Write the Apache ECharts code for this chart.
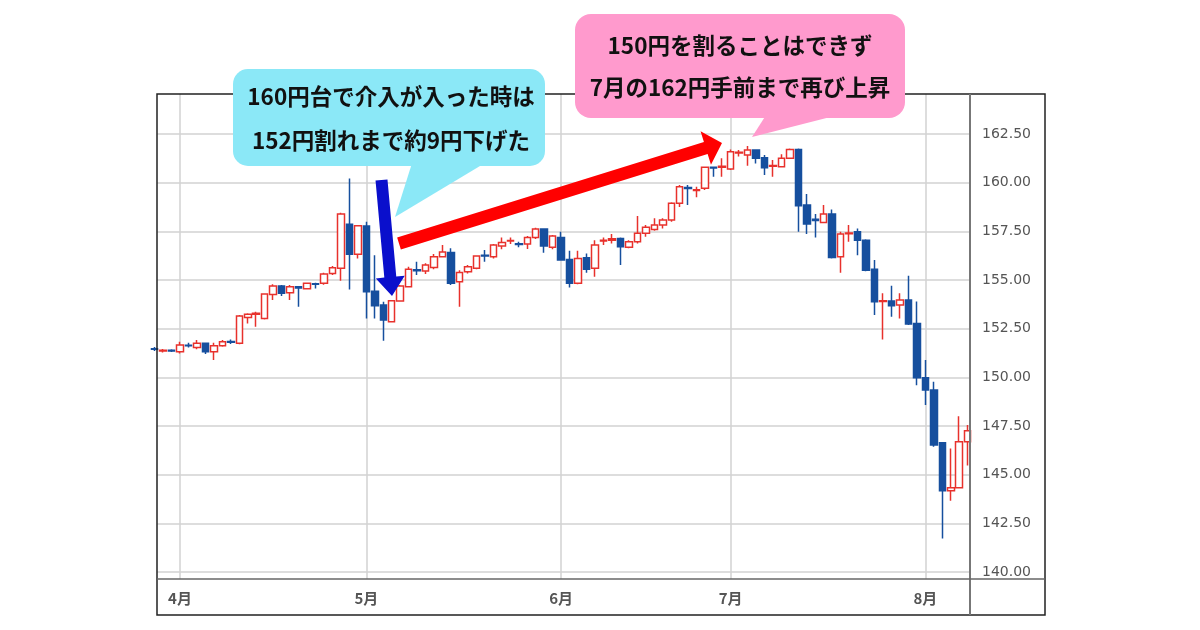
<!DOCTYPE html>
<html>
<head>
<meta charset="utf-8">
<script src="https://cdn.jsdelivr.net/npm/echarts@6/dist/echarts.min.js"></script>
<style>
html,body{margin:0;padding:0;background:#fff;}
#c{width:1200px;height:630px;}
</style>
</head>
<body>
<div id="c"></div>
<script>
// ---- data (USD/JPY daily) ----
const dates = ['3/27','3/28','3/29',
'4/1','4/2','4/3','4/4','4/5','4/8','4/9','4/10','4/11','4/12','4/15','4/16','4/17','4/18','4/19','4/22','4/23','4/24','4/25','4/26','4/29','4/30',
'5/1','5/2','5/3','5/6','5/7','5/8','5/9','5/10','5/13','5/14','5/15','5/16','5/17','5/20','5/21','5/22','5/23','5/24','5/27','5/28','5/29','5/30','5/31',
'6/3','6/4','6/5','6/6','6/7','6/10','6/11','6/12','6/13','6/14','6/17','6/18','6/19','6/20','6/21','6/24','6/25','6/26','6/27','6/28',
'7/1','7/2','7/3','7/4','7/5','7/8','7/9','7/10','7/11','7/12','7/15','7/16','7/17','7/18','7/19','7/22','7/23','7/24','7/25','7/26','7/29','7/30','7/31',
'8/1','8/2','8/5','8/6','8/7','8/8'];
const openV = [151.47,151.35,151.39,
151.32,151.65,151.54,151.75,151.32,151.63,151.85,151.75,153.08,153.24,153.03,154.26,154.69,154.35,154.66,154.55,154.81,154.83,155.34,155.60,157.86,156.32,
157.77,154.43,153.72,152.86,153.92,154.66,155.53,155.46,155.65,156.20,156.42,154.91,155.43,155.60,156.27,156.20,156.75,157.00,156.86,156.85,157.19,157.62,156.68,
157.19,156.06,154.83,156.15,155.60,157.00,157.05,157.14,156.68,156.97,157.40,157.60,157.83,158.08,158.94,159.75,159.60,159.71,160.80,160.80,
160.70,161.52,161.42,161.68,161.28,160.85,160.82,161.25,161.71,158.85,158.12,157.96,158.39,156.20,157.38,157.48,157.05,155.55,153.90,153.92,153.72,153.97,152.77,
149.98,149.35,146.65,144.18,144.33,146.70];
const closeV = [151.44,151.39,151.36,
151.66,151.62,151.75,151.32,151.63,151.83,151.80,153.15,153.25,153.29,154.28,154.69,154.32,154.66,154.59,154.83,154.78,155.31,155.63,158.39,156.32,157.79,
154.40,153.68,152.95,153.94,154.69,155.55,155.48,155.77,156.20,156.44,154.83,155.39,155.68,156.23,156.23,156.80,156.93,157.03,156.83,157.19,157.62,156.75,157.26,
156.03,154.83,156.11,155.55,156.80,157.04,157.12,156.71,156.97,157.40,157.71,157.83,158.08,158.94,159.79,159.70,159.64,160.79,160.75,160.84,
161.59,161.56,161.68,161.25,160.77,160.89,161.25,161.71,158.82,157.88,158.06,158.39,156.16,157.36,157.42,157.05,155.51,153.89,153.94,153.68,153.97,152.74,149.98,
149.35,146.53,144.18,144.33,146.70,147.26];
const lowV = [151.36,151.28,151.30,
151.23,151.54,151.44,151.20,150.89,151.58,151.71,151.70,152.77,152.60,152.98,153.97,154.18,153.97,153.63,154.52,154.57,154.76,155.26,154.97,154.52,156.11,
153.03,153.03,151.88,152.83,153.90,154.62,155.26,155.31,155.55,156.17,154.74,153.63,155.34,155.55,155.94,156.11,156.58,156.85,156.68,156.59,157.11,156.40,156.58,
155.99,154.62,154.79,155.38,155.17,156.80,156.88,155.77,156.63,156.88,157.23,157.53,157.65,158.00,158.75,158.85,159.25,159.62,160.31,160.31,
160.65,161.34,160.87,160.99,160.39,160.31,160.79,161.22,157.48,157.36,157.19,157.96,156.11,155.38,156.97,156.28,155.45,153.20,151.95,153.12,153.03,152.69,149.60,
148.58,146.44,141.73,143.67,144.30,145.47];
const highV = [151.56,151.46,151.45,
151.83,151.78,151.92,151.78,151.78,151.92,151.95,153.20,153.29,153.37,154.32,154.79,154.74,154.74,154.66,154.86,154.86,155.38,155.72,158.46,160.22,157.83,
158.00,156.28,153.89,153.97,154.74,155.68,155.94,155.86,156.34,156.80,156.63,155.51,155.77,156.28,156.54,156.85,157.19,157.19,156.97,157.26,157.69,157.65,157.31,
157.48,156.51,156.51,156.37,157.05,157.19,157.36,157.19,157.05,158.29,157.83,158.17,158.17,159.00,159.88,159.88,159.79,160.82,160.82,161.25,
161.71,161.68,161.88,161.71,161.42,161.16,161.46,161.76,161.76,159.42,158.39,158.85,158.63,157.48,157.83,157.65,157.10,156.03,154.32,154.71,154.32,155.22,153.90,
150.89,149.78,146.65,146.35,148.00,147.55];
const monthLabels = ['4月','5月','6月','7月','8月'];
const monthStartIdx = [3,25,48,68,91];
const yTickValues = [140,142.5,145,147.5,150,152.5,155,157.5,160,162.5];
const note1 = ['160円台で介入が入った時は','152円割れまで約9円下げた'];
const note2 = ['150円を割ることはできず','7月の162円手前まで再び上昇'];

// ---- build ----
const candles = dates.map((d,i)=>[i, openV[i], closeV[i], lowV[i], highV[i]]);

const UP = '#e8312c', DOWN = '#164f9e';
const GL = 157, GR = 970, GT = 94, GB = 579, OR = 1045, OB = 615;

function arrowPoints(t, p, w, hw, hl){
  const dx=p[0]-t[0], dy=p[1]-t[1], L=Math.hypot(dx,dy);
  const ux=dx/L, uy=dy/L, nx=-uy, ny=ux;
  const bx=p[0]-ux*hl, by=p[1]-uy*hl;
  return [
    [t[0]+nx*w/2, t[1]+ny*w/2],
    [bx+nx*w/2, by+ny*w/2],
    [bx+nx*hw/2, by+ny*hw/2],
    [p[0], p[1]],
    [bx-nx*hw/2, by-ny*hw/2],
    [bx-nx*w/2, by-ny*w/2],
    [t[0]-nx*w/2, t[1]-ny*w/2]
  ];
}
const noteFont = 'bold 22.5px "Noto Sans CJK JP"';

const chart = echarts.init(document.getElementById('c'), null, {renderer:'canvas'});
chart.setOption({
  animation:false,
  backgroundColor:'#fff',
  grid:{left:GL, right:1200-GR, top:GT, bottom:630-GB, containLabel:false},
  xAxis:{
    type:'value', min:0.285, max:96.27,
    axisLine:{show:false}, axisTick:{show:false, customValues:monthStartIdx},
    splitLine:{show:true, lineStyle:{color:'#d2d2d2', width:1.5}},
    axisLabel:{customValues:monthStartIdx, margin:12, color:'#555',
      fontFamily:'"Noto Sans CJK JP"', fontWeight:'bold', fontSize:15,
      formatter:(v)=>monthLabels[monthStartIdx.indexOf(Math.round(v))] || ''}
  },
  yAxis:{
    type:'value', position:'right', min:139.646, max:164.556, scale:true,
    axisLine:{show:false}, axisTick:{show:false, customValues:yTickValues},
    splitLine:{show:true, lineStyle:{color:'#d2d2d2', width:1.5}},
    axisLabel:{customValues:yTickValues, margin:12, color:'#555',
      fontFamily:'"DejaVu Sans"', fontSize:14, formatter:(v)=>v.toFixed(2)}
  },
  series:[{
    type:'candlestick', data:candles, barWidth:7, clip:true,
    itemStyle:{color:'#fff', color0:DOWN, borderColor:UP, borderColor0:DOWN, borderWidth:1.5}
  }],
  graphic:[
    {type:'rect', z:50, shape:{x:GL, y:GT, width:OR-GL, height:OB-GT}, style:{fill:null, stroke:'#222', lineWidth:1.5}},
    {type:'line', z:50, shape:{x1:GR, y1:GT, x2:GR, y2:OB}, style:{stroke:'#777', lineWidth:2}},
    {type:'line', z:50, shape:{x1:GL, y1:GB, x2:OR, y2:GB}, style:{stroke:'#666', lineWidth:1.5}},
    // cyan callout
    {type:'rect', z:60, shape:{x:233, y:69, width:312, height:97, r:15}, style:{fill:'#8be8f7'}},
    {type:'polygon', z:60, shape:{points:[[413,160],[490,160],[395,217]]}, style:{fill:'#8be8f7'}},
    {type:'text', z:61, style:{text:note1[0], x:391, y:96, font:noteFont, fill:'#111', align:'center', verticalAlign:'middle'}},
    {type:'text', z:61, style:{text:note1[1], x:391, y:140, font:noteFont, fill:'#111', align:'center', verticalAlign:'middle'}},
    // pink callout
    {type:'rect', z:60, shape:{x:575, y:14, width:330, height:104, r:16}, style:{fill:'#ff9acd'}},
    {type:'polygon', z:60, shape:{points:[[768,112],[850,112],[752,137]]}, style:{fill:'#ff9acd'}},
    {type:'text', z:61, style:{text:note2[0], x:740, y:45, font:noteFont, fill:'#111', align:'center', verticalAlign:'middle'}},
    {type:'text', z:61, style:{text:note2[1], x:740, y:87, font:noteFont, fill:'#111', align:'center', verticalAlign:'middle'}},
    // arrows
    {type:'polygon', z:70, shape:{points:arrowPoints([381.5,180],[392,296],12,29,19)}, style:{fill:'#0a0fcc'}},
    {type:'polygon', z:70, shape:{points:arrowPoints([399,243.5],[722,143],12.5,35,17)}, style:{fill:'#ff0000'}}
  ]
});
</script>
</body>
</html>
